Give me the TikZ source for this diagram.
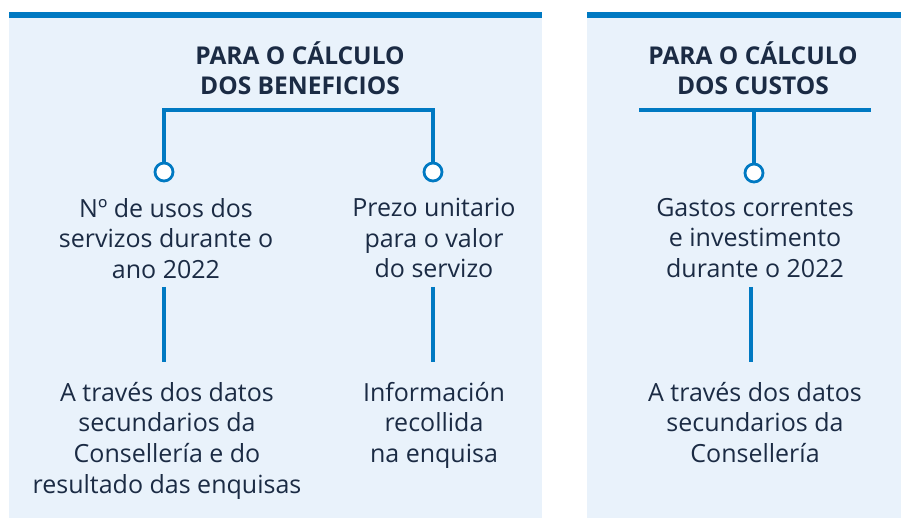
\documentclass[tikz,border=0pt]{standalone}
\usepackage{fontspec}
\setmainfont{Open Sans}
\definecolor{panelbg}{HTML}{E9F2FB}
\definecolor{barblue}{HTML}{0079C2}
\definecolor{navy}{HTML}{1B2B44}
\begin{document}
\begin{tikzpicture}[x=1pt,y=-1pt,
  panel/.style={fill=panelbg,draw=none},
  bar/.style={fill=barblue,draw=none},
  title/.style={align=center,text=navy,font=\fontsize{24.5}{30}\selectfont\bfseries,inner sep=0pt},
  body/.style={align=center,text=navy,font=\fontsize{25}{30.6}\selectfont,inner sep=0pt},
  dot/.style={circle,draw=barblue,fill=white,line width=2.8pt,minimum size=18pt,inner sep=0pt},
  link/.style={draw=barblue,line width=3.6pt}]
\useasboundingbox (0,0) rectangle (901,518);
% panels
\fill[panel] (9,18) rectangle (542,518);
\fill[bar] (9,12) rectangle (542,18.5);
\fill[panel] (587,18) rectangle (901,518);
\fill[bar] (587,12) rectangle (901,18.5);
% titles
\node[title] (tb) at (300,68) {PARA O CÁLCULO\\DOS BENEFICIOS};
\node[title] (tc) at (753,68) {PARA O CÁLCULO\\DOS CUSTOS};
% bracket left
\coordinate (bl) at (164,110);
\coordinate (br) at (433,110);
\node[dot] (d1) at (164,172) {};
\node[dot] (d2) at (433,172) {};
\draw[link,line join=miter] (d1.north) -- (bl) -- (br) -- (d2.north);
% right
\coordinate (cl) at (639,110);
\coordinate (cr) at (871,110);
\coordinate (cm) at (754,110);
\node[dot] (d3) at (754,173) {};
\draw[link] (cl) -- (cr);
\draw[link] (cm) -- (d3.north);
% middle texts
\node[body,anchor=north] (m1) at (166,198) {Nº de usos dos\\servizos durante o\\ano 2022};
\node[body,anchor=north] (m2) at (434,198) {Prezo unitario\\para o valor\\do servizo};
\node[body,anchor=north] (m3) at (755,198) {Gastos correntes\\e investimento\\durante o 2022};
% vertical lines
\coordinate (v1t) at (164,287); \coordinate (v1b) at (164,362);
\coordinate (v2t) at (433,287); \coordinate (v2b) at (433,362);
\coordinate (v3t) at (751,287); \coordinate (v3b) at (751,362);
\draw[link,line width=3.4pt] (v1t) -- (v1b);
\draw[link,line width=3.4pt] (v2t) -- (v2b);
\draw[link,line width=3.4pt] (v3t) -- (v3b);
% bottom texts
\node[body,anchor=north] (b1) at (167,382) {A través dos datos\\secundarios da\\Consellería e do\\resultado das enquisas};
\node[body,anchor=north] (b2) at (434,382) {Información\\recollida\\na enquisa};
\node[body,anchor=north] (b3) at (755,382) {A través dos datos\\secundarios da\\Consellería};
\end{tikzpicture}
\end{document}
